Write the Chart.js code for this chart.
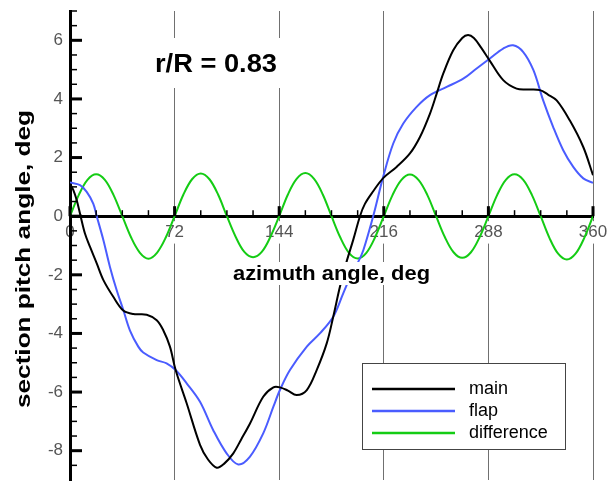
<!DOCTYPE html>
<html>
<head>
<meta charset="utf-8">
<script src="https://cdn.jsdelivr.net/npm/chart.js@4"></script>
<style>
  html, body { margin: 0; padding: 0; background: #fff; }
  canvas { display: block; }
</style>
</head>
<body>
<canvas id="pitchChart" width="609" height="481"></canvas>
<script>
// tick labels
const xTicks = [0, 72, 144, 216, 288, 360];
const yTicks = [-8, -6, -4, -2, 0, 2, 4, 6];

// main (black)
const mainX = [0, 2.3, 4.6, 7.3, 10.3, 13.8, 18.4, 23, 29.8, 36.7, 43.6, 52.8, 59.7, 64.2, 68.8,
  72.7, 80.3, 89.5, 95, 101, 106, 112.4, 118, 123.9, 133, 140, 144.5, 150, 156, 163, 169.8,
  176.7, 181.2, 185.8, 190.4, 195, 199.6, 203, 208.7, 215.6, 224.8, 234, 240.9, 247.8, 252.4,
  256.9, 263.8, 270, 274, 278, 283, 289, 298.2, 307.4, 315, 323.5, 329, 335, 344, 353.3, 360];
const mainY = [1.10, 0.89, 0.55, 0.0, -0.59, -1.05, -1.61, -2.18, -2.75, -3.22, -3.34, -3.36, -3.55, -3.89, -4.45,
  -5.25, -6.38, -7.80, -8.30, -8.58, -8.45, -8.09, -7.60, -7.07, -6.16, -5.84, -5.84, -5.95, -6.10, -5.93, -5.25,
  -4.34, -3.43, -2.41, -1.55, -0.80, 0.0, 0.42, 0.85, 1.30, 1.68, 2.14, 2.70, 3.50, 4.18,
  4.86, 5.66, 6.08, 6.18, 6.08, 5.75, 5.30, 4.64, 4.35, 4.32, 4.30, 4.15, 3.95, 3.27, 2.36, 1.40];

// flap (blue)
const flapX = [0, 6.9, 11.5, 16, 18.4, 23, 27.5, 32.1, 36.7, 41.3, 47, 50.4, 59.7, 66.5, 72.7,
  80.3, 89.5, 98.6, 107.8, 115.8, 123.9, 133, 140, 144.5, 151.4, 163, 172, 181.2, 188, 195,
  198.4, 201.9, 208.7, 215.6, 222.5, 229.4, 238.6, 247.8, 259.3, 270.7, 279.9, 289, 298.2,
  305, 312, 319, 325.7, 332.6, 339.5, 346.4, 353.3, 360];
const flapY = [1.15, 1.06, 0.83, 0.43, 0.0, -0.82, -1.73, -2.52, -3.20, -3.90, -4.45, -4.65, -4.91, -5.02, -5.25,
  -5.70, -6.33, -7.30, -8.09, -8.47, -8.20, -7.41, -6.50, -5.93, -5.25, -4.45, -4.00, -3.43, -2.64, -1.84,
  -1.56, -1.16, 0.0, 1.35, 2.48, 3.16, 3.73, 4.13, 4.41, 4.69, 5.04, 5.38, 5.72,
  5.83, 5.60, 4.98, 3.95, 3.04, 2.25, 1.68, 1.29, 1.14];

// difference (green)
const diffX = [0, 6, 12, 18, 24, 30, 36, 42, 48, 54, 60, 66,
  72, 78, 84, 90, 96, 102, 108, 114, 120, 126, 132, 138,
  144, 150, 156, 162, 168, 174, 180, 186, 192, 198, 204, 210,
  216, 222, 228, 234, 240, 246, 252, 258, 264, 270, 276, 282,
  288, 294, 300, 306, 312, 318, 324, 330, 336, 342, 348, 354, 360];
const diffY = [0, 0.72, 1.24, 1.43, 1.24, 0.72, 0, -0.72, -1.24, -1.45, -1.24, -0.72,
  0, 0.73, 1.26, 1.46, 1.26, 0.73, 0, -0.70, -1.22, -1.40, -1.22, -0.70,
  0, 0.74, 1.27, 1.47, 1.27, 0.74, 0, -0.72, -1.25, -1.44, -1.25, -0.72,
  0, 0.72, 1.23, 1.42, 1.23, 0.72, 0, -0.71, -1.23, -1.42, -1.23, -0.71,
  0, 0.72, 1.24, 1.43, 1.24, 0.72, 0, -0.74, -1.28, -1.48, -1.28, -0.74, 0];

const toPoints = (xs, ys) => xs.map((v, i) => ({ x: v, y: ys[i] }));

const FONT = "'Liberation Sans', Arial, sans-serif";

function fitText(ctx, text, x, y, font, width, rotate) {
  ctx.save();
  ctx.font = font;
  const w = ctx.measureText(text).width;
  ctx.translate(x, y);
  if (rotate) ctx.rotate(-Math.PI / 2);
  ctx.scale(width / w, 1);
  ctx.textAlign = 'center';
  ctx.textBaseline = 'alphabetic';
  ctx.fillStyle = '#000';
  ctx.fillText(text, 0, 0);
  ctx.restore();
}

const decorations = {
  id: 'decorations',
  afterDraw(chart) {
    const { ctx, scales: { x, y } } = chart;
    const y0 = y.getPixelForValue(0);
    const x0 = x.getPixelForValue(0);
    ctx.save();
    ctx.strokeStyle = '#000';

    // x axis ticks (pointing up)
    for (let v = 0; v <= 360; v += 18) {
      const px = x.getPixelForValue(v);
      const major = v % 72 === 0;
      ctx.lineWidth = major ? 3 : 1.5;
      ctx.beginPath();
      ctx.moveTo(px, y0);
      ctx.lineTo(px, y0 - (major ? 10 : 6));
      ctx.stroke();
    }
    // y axis ticks (pointing right)
    for (let v = -8.5; v <= 7; v += 0.5) {
      const py = y.getPixelForValue(v);
      const major = v % 2 === 0;
      ctx.lineWidth = major ? 3 : 1.5;
      ctx.beginPath();
      ctx.moveTo(x0, py);
      ctx.lineTo(x0 + (major ? 12 : 7), py);
      ctx.stroke();
    }

    // r/R label
    ctx.fillStyle = '#fff';
    ctx.fillRect(148, 38, 138, 50);
    fitText(ctx, 'r/R = 0.83', 216, 72, 'bold 25px ' + FONT, 122);

    // axis titles
    ctx.fillStyle = '#fff';
    ctx.fillRect(229, 262, 205, 23);
    fitText(ctx, 'azimuth angle, deg', 331.5, 280, 'bold 21px ' + FONT, 197);
    fitText(ctx, 'section pitch angle, deg', 29.5, 259, 'bold 20px ' + FONT, 298, true);

    // legend
    ctx.fillStyle = '#fff';
    ctx.fillRect(362, 363, 203, 86);
    ctx.strokeStyle = '#444';
    ctx.lineWidth = 1;
    ctx.strokeRect(362.5, 363.5, 203, 86);
    const rows = [389, 411, 433];
    ctx.font = '18px ' + FONT;
    ctx.textAlign = 'left';
    ctx.textBaseline = 'middle';
    chart.data.datasets.forEach((ds, i) => {
      ctx.strokeStyle = ds.borderColor;
      ctx.lineWidth = 2.5;
      ctx.beginPath();
      ctx.moveTo(372, rows[i]);
      ctx.lineTo(455, rows[i]);
      ctx.stroke();
      ctx.fillStyle = '#000';
      ctx.fillText(ds.label, 469, rows[i]);
    });
    ctx.restore();
  }
};

new Chart(document.getElementById('pitchChart'), {
  type: 'line',
  data: {
    datasets: [
      { label: 'main', data: toPoints(mainX, mainY), borderColor: '#000000', borderWidth: 2 },
      { label: 'flap', data: toPoints(flapX, flapY), borderColor: '#4a5cff', borderWidth: 2 },
      { label: 'difference', data: toPoints(diffX, diffY), borderColor: '#14cc14', borderWidth: 2 }
    ]
  },
  options: {
    responsive: false,
    animation: false,
    devicePixelRatio: 1,
    layout: { padding: { left: 0, right: 16, top: 11, bottom: 1 } },
    elements: { point: { radius: 0 }, line: { tension: 0.35, fill: false } },
    plugins: { legend: { display: false }, tooltip: { enabled: false } },
    scales: {
      x: {
        type: 'linear',
        min: 0,
        max: 360,
        position: { y: 0 },
        z: 1,
        afterBuildTicks: s => { s.ticks = xTicks.map(v => ({ value: v })); },
        afterFit: s => { s.paddingLeft = 0; s.paddingRight = 0; },
        grid: {
          drawTicks: false,
          lineWidth: 1,
          color: c => (c.tick && c.tick.value === 0) ? 'rgba(0,0,0,0)' : '#707070'
        },
        border: { display: true, color: '#000', width: 3 },
        ticks: {
          padding: 6,
          color: '#555',
          font: { family: FONT, size: 17 },
          maxRotation: 0,
          autoSkip: false,
          showLabelBackdrop: true,
          backdropColor: '#fff',
          backdropPadding: 1
        }
      },
      y: {
        type: 'linear',
        min: -9,
        max: 7,
        position: 'left',
        afterBuildTicks: s => { s.ticks = yTicks.map(v => ({ value: v })); },
        afterFit: s => { s.width = 70; s.paddingTop = 0; s.paddingBottom = 0; },
        grid: { display: false, drawTicks: false },
        border: { display: true, color: '#000', width: 3 },
        ticks: {
          padding: 7,
          color: '#555',
          font: { family: FONT, size: 17 }
        }
      }
    }
  },
  plugins: [decorations]
});
</script>
</body>
</html>
